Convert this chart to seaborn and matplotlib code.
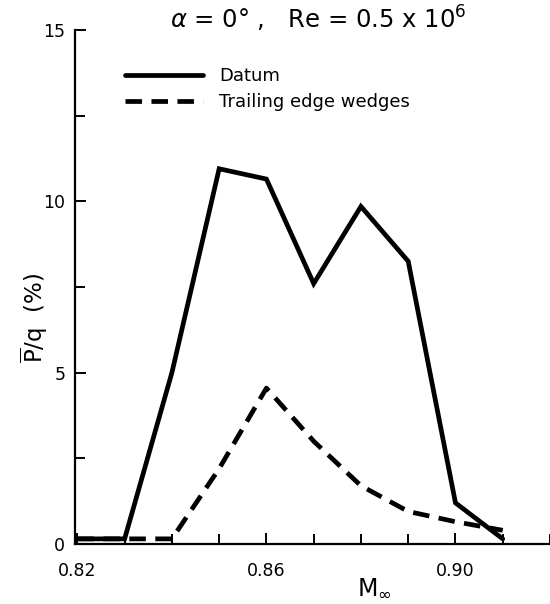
import matplotlib
matplotlib.use("Agg")
import matplotlib.pyplot as plt
import seaborn as sns
import pandas as pd
from matplotlib.ticker import MultipleLocator, FixedLocator

# Data
mach_datum = [0.82, 0.83, 0.84, 0.85, 0.86, 0.87, 0.88, 0.89, 0.90, 0.91]
p_datum = [0.15, 0.15, 5.0, 10.95, 10.65, 7.6, 9.85, 8.25, 1.2, 0.15]

mach_wedge = [0.82, 0.84, 0.85, 0.86, 0.87, 0.88, 0.89, 0.90, 0.91]
p_wedge = [0.15, 0.15, 2.2, 4.55, 3.0, 1.7, 0.95, 0.65, 0.4]

series_labels = ["Datum", "Trailing edge wedges"]
x_ticklabels = ["0.82", "0.86", "0.90"]
y_ticklabels = ["0", "5", "10", "15"]

sns.set_theme(style="white")
plt.rcParams['font.family'] = ['DejaVu Sans']
plt.rcParams['mathtext.fontset'] = 'dejavusans'

fig = plt.figure(figsize=(5.5, 6.04), dpi=100)
ax = fig.add_axes([75/550, 60/604, 1 - 75/550, (544 - 30)/604])

df_d = pd.DataFrame({"M": mach_datum, "P": p_datum})
df_w = pd.DataFrame({"M": mach_wedge, "P": p_wedge})

lw = 3.4
sns.lineplot(data=df_d, x="M", y="P", ax=ax, color="black", linewidth=lw,
             label=series_labels[0], solid_joinstyle="miter")
sns.lineplot(data=df_w, x="M", y="P", ax=ax, color="black", linewidth=lw,
             label=series_labels[1])
ax.lines[1].set_dashes((3.5, 2.0))

ax.set_xlim(0.8195, 0.92)
ax.set_ylim(0, 15)

for s in ["top", "right"]:
    ax.spines[s].set_visible(False)
for s in ["left", "bottom"]:
    ax.spines[s].set_color("black")
    ax.spines[s].set_linewidth(1.6)

ax.xaxis.set_major_locator(FixedLocator([0.82, 0.86, 0.90]))
ax.xaxis.set_minor_locator(MultipleLocator(0.01))
ax.set_xticklabels(x_ticklabels)
ax.yaxis.set_major_locator(FixedLocator([0, 5, 10, 15]))
ax.yaxis.set_minor_locator(MultipleLocator(2.5))
ax.set_yticklabels(y_ticklabels)

ax.tick_params(which="both", direction="in", color="black", width=1.4,
               labelsize=12.5, labelcolor="black", bottom=True, left=True,
               top=False, right=False)
ax.tick_params(which="major", length=8)
ax.tick_params(which="minor", length=7)
ax.tick_params(axis="x", which="major", pad=13)
ax.tick_params(axis="y", which="major", pad=7)

ax.set_xlabel(r"M$_\infty$", fontsize=17, color="black")
ax.xaxis.set_label_coords((374 - 75) / 475, -0.062)
ax.set_ylabel(r"$\overline{\mathrm{P}}$/q  (%)", fontsize=16.5, color="black")
ax.yaxis.set_label_coords(-0.052, (544 - 318) / 514)

fig.text(318/550, 1 - 19/604, r"$\alpha$ = 0° ,   Re = 0.5 x 10$^{6}$",
         ha="center", va="center", fontsize=17.5, color="black")

leg = ax.legend(loc="upper left", bbox_to_anchor=(125/550, 1 - 67/604),
                bbox_transform=fig.transFigure, frameon=False, fontsize=13,
                handlelength=4.3, handletextpad=0.9, labelspacing=0.45,
                borderpad=0, borderaxespad=0)
for t in leg.get_texts():
    t.set_color("black")

fig.savefig("out.png", dpi=100, facecolor="white")
